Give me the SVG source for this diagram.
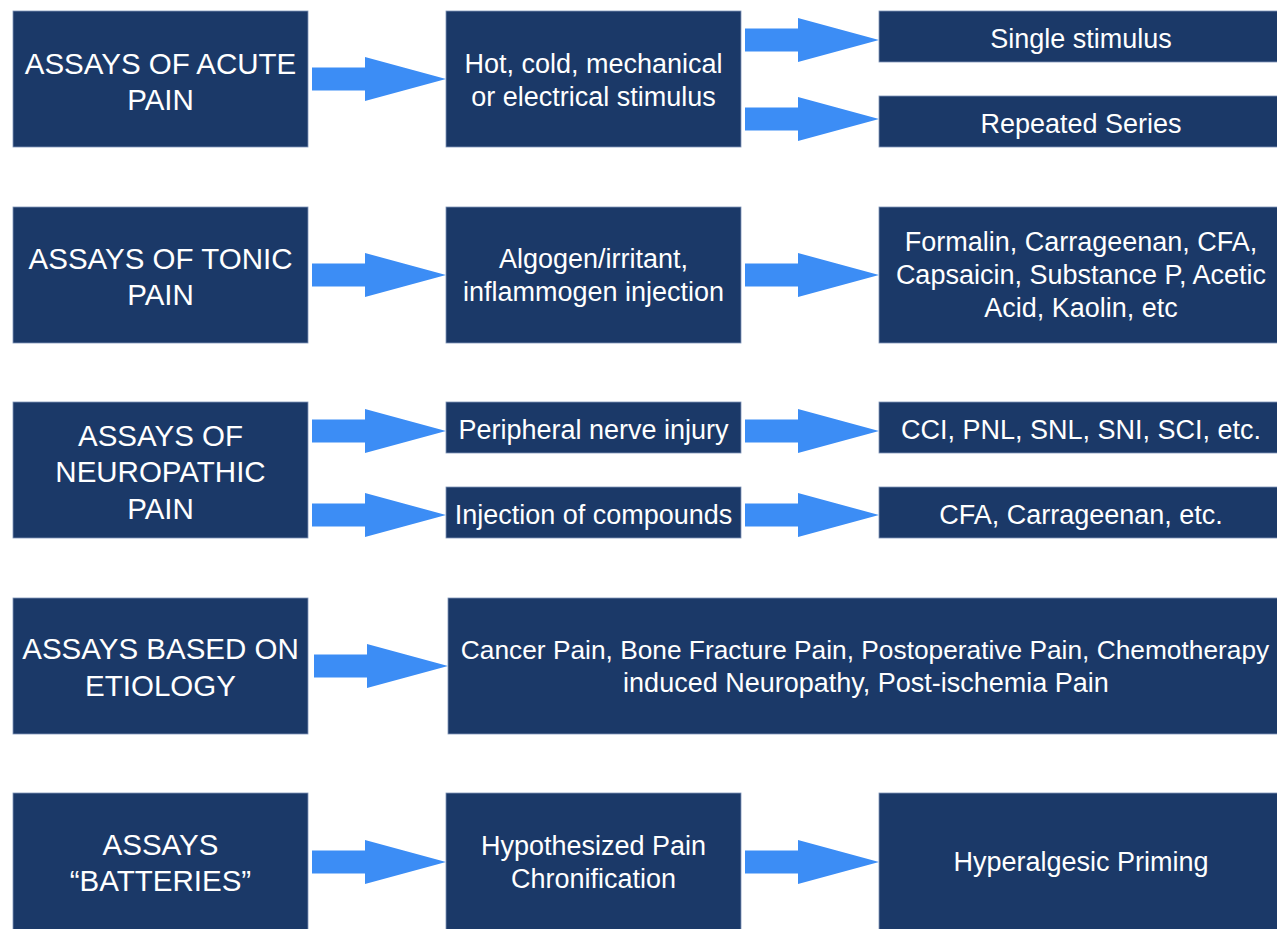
<svg xmlns="http://www.w3.org/2000/svg" xmlns:xlink="http://www.w3.org/1999/xlink" width="1277" height="929" viewBox="0 0 1277 929">
<style>
.box{fill:#1b3968;stroke:#7f95b8;stroke-width:0.8}
.t{fill:#ffffff;font-family:"Liberation Sans",Arial,Helvetica,sans-serif;font-size:27px;text-anchor:middle}
.h{font-size:29.5px}
.arr{fill:#3c8df5}
</style>
<defs>
<path id="arrow" d="M0,-11.5 H53 V-22 L134,0 L53,22 V11.5 H0 Z"/>
</defs>
<rect width="1277" height="929" fill="#ffffff"/>
<g id="connectors" class="arr">
<use xlink:href="#arrow" x="312" y="79"/>
<use xlink:href="#arrow" x="745" y="40"/>
<use xlink:href="#arrow" x="745" y="119"/>
<use xlink:href="#arrow" x="312" y="275"/>
<use xlink:href="#arrow" x="745" y="275"/>
<use xlink:href="#arrow" x="312" y="431"/>
<use xlink:href="#arrow" x="312" y="515"/>
<use xlink:href="#arrow" x="745" y="431"/>
<use xlink:href="#arrow" x="745" y="515"/>
<use xlink:href="#arrow" x="314" y="666"/>
<use xlink:href="#arrow" x="312" y="862"/>
<use xlink:href="#arrow" x="745" y="862"/>
</g>
<g id="acute">
<rect class="box" x="13" y="11" width="295" height="136"/>
<text class="t h" x="160.5" y="74">ASSAYS OF ACUTE</text>
<text class="t h" x="160.5" y="110">PAIN</text>
</g>
<g id="acute-stimulus">
<rect class="box" x="446" y="11" width="295" height="136"/>
<text class="t" x="593.5" y="73">Hot, cold, mechanical</text>
<text class="t" x="593.5" y="106">or electrical stimulus</text>
</g>
<g id="single">
<rect class="box" x="879" y="11" width="400" height="51"/>
<text class="t" x="1081" y="48">Single stimulus</text>
</g>
<g id="repeated">
<rect class="box" x="879" y="96" width="400" height="51"/>
<text class="t" x="1081" y="133">Repeated Series</text>
</g>
<g id="tonic">
<rect class="box" x="13" y="207" width="295" height="136"/>
<text class="t h" x="160.5" y="269">ASSAYS OF TONIC</text>
<text class="t h" x="160.5" y="305">PAIN</text>
</g>
<g id="tonic-injection">
<rect class="box" x="446" y="207" width="295" height="136"/>
<text class="t" x="593.5" y="268">Algogen/irritant,</text>
<text class="t" x="593.5" y="301">inflammogen injection</text>
</g>
<g id="tonic-agents">
<rect class="box" x="879" y="207" width="400" height="136"/>
<text class="t" x="1081" y="251">Formalin, Carrageenan, CFA,</text>
<text class="t" x="1081" y="284">Capsaicin, Substance P, Acetic</text>
<text class="t" x="1081" y="317">Acid, Kaolin, etc</text>
</g>
<g id="neuropathic">
<rect class="box" x="13" y="402" width="295" height="136"/>
<text class="t h" x="160.5" y="446">ASSAYS OF</text>
<text class="t h" x="160.5" y="482">NEUROPATHIC</text>
<text class="t h" x="160.5" y="519">PAIN</text>
</g>
<g id="peripheral">
<rect class="box" x="446" y="402" width="295" height="51"/>
<text class="t" x="593.5" y="439">Peripheral nerve injury</text>
</g>
<g id="injection">
<rect class="box" x="446" y="487" width="295" height="51"/>
<text class="t" x="593.5" y="524">Injection of compounds</text>
</g>
<g id="models">
<rect class="box" x="879" y="402" width="400" height="51"/>
<text class="t" x="1081" y="439">CCI, PNL, SNL, SNI, SCI, etc.</text>
</g>
<g id="compounds">
<rect class="box" x="879" y="487" width="400" height="51"/>
<text class="t" x="1081" y="524">CFA, Carrageenan, etc.</text>
</g>
<g id="etiology">
<rect class="box" x="13" y="598" width="295" height="136"/>
<text class="t h" x="160.5" y="659">ASSAYS BASED ON</text>
<text class="t h" x="160.5" y="696">ETIOLOGY</text>
</g>
<g id="etiology-types">
<rect class="box" x="448" y="598" width="831" height="136"/>
<text class="t" x="865" y="659" style="font-size:26.3px">Cancer Pain, Bone Fracture Pain, Postoperative Pain, Chemotherapy</text>
<text class="t" x="866" y="692">induced Neuropathy, Post-ischemia Pain</text>
</g>
<g id="batteries">
<rect class="box" x="13" y="793" width="295" height="140"/>
<text class="t h" x="160.5" y="855">ASSAYS</text>
<text class="t h" x="160.5" y="891">“BATTERIES”</text>
</g>
<g id="chronification">
<rect class="box" x="446" y="793" width="295" height="140"/>
<text class="t" x="593.5" y="855">Hypothesized Pain</text>
<text class="t" x="593.5" y="888">Chronification</text>
</g>
<g id="priming">
<rect class="box" x="879" y="793" width="400" height="140"/>
<text class="t" x="1081" y="871">Hyperalgesic Priming</text>
</g>
</svg>
